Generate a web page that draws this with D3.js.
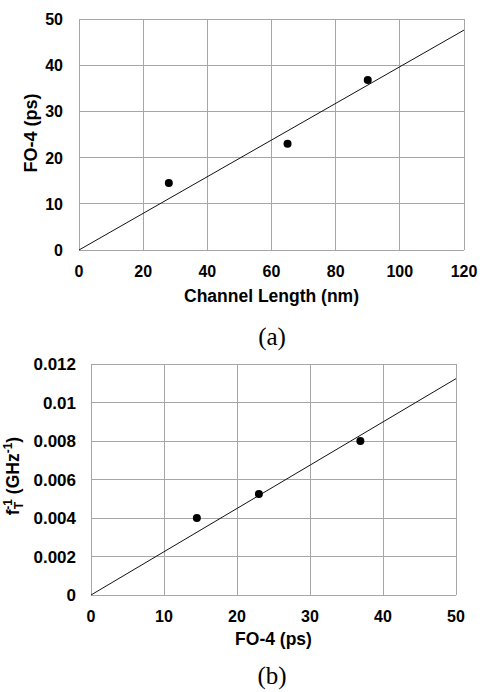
<!DOCTYPE html>
<html><head><meta charset="utf-8">
<script src="https://cdn.jsdelivr.net/npm/d3@7"></script>
<style>body{margin:0;background:#fff}svg{display:block}</style>
</head><body>
<script>
// Chart (a)
const aX = [28, 65, 90];
const aY = [14.5, 23, 36.8];
const aFit = [[0, 0], [120, 47.6]];
const aXTicks = [0, 20, 40, 60, 80, 100, 120];
const aYTicks = [0, 10, 20, 30, 40, 50];
// Chart (b)
const bX = [14.5, 23, 36.9];
const bY = [0.004, 0.00525, 0.008];
const bFit = [[0, 0], [50, 0.01124]];
const bXTicks = [0, 10, 20, 30, 40, 50];
const bYTicks = [0, 0.002, 0.004, 0.006, 0.008, 0.01, 0.012];

const svg = d3.select("body").append("svg").attr("width", 480).attr("height", 692);
const font = "Liberation Sans, Arial, sans-serif";

function panel(o) {
  const g = svg.append("g");
  const x = d3.scaleLinear().domain(o.xd).range([o.l, o.r]);
  const y = d3.scaleLinear().domain(o.yd).range([o.b, o.t]);
  g.selectAll(".gx").data(o.xt).join("line")
    .attr("x1", d => x(d)).attr("x2", d => x(d)).attr("y1", o.t).attr("y2", o.b)
    .attr("stroke", "#a6a6a6").attr("stroke-width", 1).attr("shape-rendering", "crispEdges");
  g.selectAll(".gy").data(o.yt).join("line")
    .attr("y1", d => y(d)).attr("y2", d => y(d)).attr("x1", o.l).attr("x2", o.r)
    .attr("stroke", "#a6a6a6").attr("stroke-width", 1).attr("shape-rendering", "crispEdges");
  g.append("path").datum(o.fit)
    .attr("d", d3.line().x(d => x(d[0])).y(d => y(d[1])))
    .attr("stroke", "#111").attr("stroke-width", 1).attr("fill", "none");
  g.selectAll("circle").data(o.px.map((v, i) => [v, o.py[i]])).join("circle")
    .attr("cx", d => x(d[0])).attr("cy", d => y(d[1])).attr("r", 4).attr("fill", "#000");
  g.selectAll(".tx").data(o.xt).join("text")
    .attr("x", d => x(d)).attr("y", o.b + 27).attr("text-anchor", "middle")
    .attr("font-family", font).attr("font-weight", "bold").attr("font-size", 16)
    .text(d => d);
  g.selectAll(".ty").data(o.yt).join("text")
    .attr("x", o.l - o.yOff).attr("y", d => y(d) + 6).attr("text-anchor", "end")
    .attr("font-family", font).attr("font-weight", "bold").attr("font-size", o.yfs)
    .text(o.yf);
  g.append("text").attr("x", (o.l + o.r) / 2).attr("y", o.b + o.xtOff).attr("text-anchor", "middle")
    .attr("font-family", font).attr("font-weight", "bold").attr("font-size", 17.5).text(o.xTitle);
  g.append("text").attr("x", 272).attr("y", o.capY).attr("text-anchor", "middle")
    .attr("font-family", "Liberation Serif, Times New Roman, serif").attr("font-size", 25).text(o.cap);
  return g;
}

const ga = panel({xd: [0, 120], yd: [0, 50], l: 79, r: 464, t: 19, b: 250,
  xt: aXTicks, yt: aYTicks, fit: aFit, px: aX, py: aY, yf: d => d, yOff: 16, yfs: 16,
  xTitle: "Channel Length (nm)", xtOff: 52, cap: "(a)", capY: 345});
ga.append("text").attr("transform", "translate(37,133) rotate(-90)").attr("text-anchor", "middle")
  .attr("font-family", font).attr("font-weight", "bold").attr("font-size", 18).text("FO-4 (ps)");

const gb = panel({xd: [0, 50], yd: [0, 0.012], l: 91, r: 456, t: 364, b: 595,
  xt: bXTicks, yt: bYTicks, fit: bFit, px: bX, py: bY, yOff: 15, yfs: 17,
  yf: d => d === 0 ? "0" : String(+d.toFixed(3)),
  xTitle: "FO-4 (ps)", xtOff: 50, cap: "(b)", capY: 684});
const yl = gb.append("text").attr("transform", "translate(19,476) rotate(-90)").attr("text-anchor", "middle")
  .attr("font-family", font).attr("font-weight", "bold").attr("font-size", 17.5);
yl.append("tspan").text("f");
yl.append("tspan").attr("font-size", 12).attr("dy", 4).text("T");
yl.append("tspan").attr("font-size", 12).attr("dy", -11).attr("dx", -7).text("-1");
yl.append("tspan").attr("dy", 7).text(" (GHz");
yl.append("tspan").attr("font-size", 12).attr("dy", -7).text("-1");
yl.append("tspan").attr("dy", 7).text(")");
</script>
</body></html>
